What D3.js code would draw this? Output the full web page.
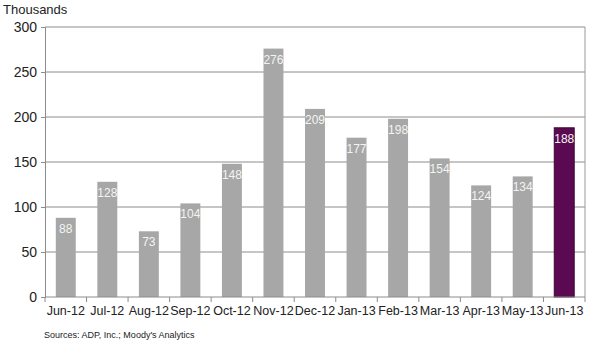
<!DOCTYPE html>
<html>
<head>
<meta charset="utf-8">
<script src="https://cdn.jsdelivr.net/npm/d3@7"></script>
<style>
  body { margin: 0; background: #fff; }
  text { font-family: "Liberation Sans", Arial, sans-serif; }
</style>
</head>
<body>
<div id="chart"></div>
<script>
// monthly ADP employment change, thousands
var months = ["Jun-12", "Jul-12", "Aug-12", "Sep-12", "Oct-12", "Nov-12", "Dec-12",
              "Jan-13", "Feb-13", "Mar-13", "Apr-13", "May-13", "Jun-13"];
var jobs = [88, 128, 73, 104, 148, 276, 209, 177, 198, 154, 124, 134, 188];
var yTicks = [0, 50, 100, 150, 200, 250, 300];

var width = 600, height = 350;
var margin = {top: 27, right: 15, bottom: 53, left: 45};
var w = width - margin.left - margin.right,
    h = height - margin.top - margin.bottom;

var svg = d3.select("#chart").append("svg")
  .attr("width", width)
  .attr("height", height);

var g = svg.append("g")
  .attr("transform", "translate(" + margin.left + "," + margin.top + ")");

var x = d3.scaleBand().domain(months).range([0, w]).paddingInner(0.52).paddingOuter(0.26);
var y = d3.scaleLinear().domain([0, 300]).range([h, 0]);

// gridlines
g.selectAll(".grid").data(yTicks.slice(1))
  .enter().append("line")
  .attr("x1", 0).attr("x2", w)
  .attr("y1", d => y(d)).attr("y2", d => y(d))
  .style("stroke", "#8c8c8c")
  .style("stroke-width", 1);

// right border
g.append("line")
  .attr("x1", w).attr("x2", w).attr("y1", 0).attr("y2", h)
  .style("stroke", "#9a9a9a");

// bars
g.selectAll(".bar").data(jobs)
  .enter().append("rect")
  .attr("x", (d, i) => x(months[i]))
  .attr("width", x.bandwidth())
  .attr("y", d => y(d))
  .attr("height", d => h - y(d))
  .style("fill", (d, i) => i === jobs.length - 1 ? "#5b0a52" : "#a6a7a6")
  .style("stroke", (d, i) => i === jobs.length - 1 ? "#3a0634" : "none");

// value labels
g.selectAll(".val").data(jobs)
  .enter().append("text")
  .attr("x", (d, i) => x(months[i]) + x.bandwidth() / 2)
  .attr("y", d => y(d) + 15)
  .attr("text-anchor", "middle")
  .style("font-size", "12px")
  .style("fill", "#f4f4f4")
  .text(d => d);

// y axis
var yAxis = g.append("g")
  .call(d3.axisLeft(y).tickValues(yTicks).tickSize(4).tickPadding(4));
yAxis.select(".domain").style("stroke", "#8c8c8c");
yAxis.selectAll(".tick line").style("stroke", "#8c8c8c");
yAxis.selectAll("text").style("font-size", "14px").style("fill", "#222");

// x axis: ticks between categories
var xAxis = g.append("g").attr("transform", "translate(0," + h + ")");
xAxis.append("line").attr("x1", 0).attr("x2", w)
  .style("stroke", "#8c8c8c");
xAxis.selectAll(".sep").data(d3.range(months.length + 1))
  .enter().append("line")
  .attr("x1", i => i * x.step()).attr("x2", i => i * x.step())
  .attr("y1", 0).attr("y2", 5)
  .style("stroke", "#8c8c8c");
xAxis.selectAll(".lab").data(months)
  .enter().append("text")
  .attr("x", d => x(d) + x.bandwidth() / 2)
  .attr("y", 18)
  .attr("text-anchor", "middle")
  .style("font-size", "12.5px")
  .style("fill", "#222")
  .text(d => d);

svg.append("text")
  .attr("x", 3).attr("y", 14)
  .style("font-size", "13px")
  .style("fill", "#222")
  .text("Thousands");

svg.append("text")
  .attr("x", 44).attr("y", 338)
  .style("font-size", "9px")
  .style("fill", "#222")
  .text("Sources: ADP,  Inc.; Moody's Analytics");
</script>
</body>
</html>
